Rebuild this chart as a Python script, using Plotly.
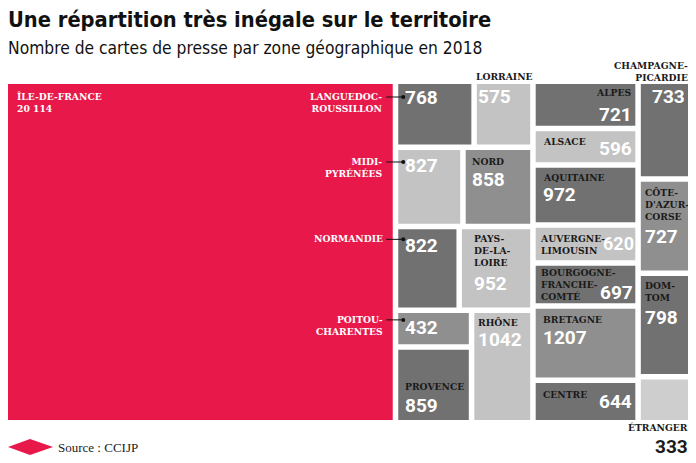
import plotly.graph_objects as go

# ---------------- data ----------------
regions = ["Île-de-France", "Languedoc-Roussillon", "Lorraine", "Midi-Pyrénées", "Nord",
           "Normandie", "Pays-de-la-Loire", "Poitou-Charentes", "Provence", "Rhône",
           "Alpes", "Alsace", "Aquitaine", "Auvergne-Limousin", "Bourgogne-Franche-Comté",
           "Bretagne", "Centre", "Champagne-Picardie", "Côte-d'Azur-Corse", "DOM-TOM", "Étranger"]
cards = [20114, 768, 575, 827, 858, 822, 952, 432, 859, 1042,
         721, 596, 972, 620, 697, 1207, 644, 733, 727, 798, 333]
value_labels = ["20 114", "768", "575", "827", "858", "822", "952", "432", "859", "1042",
                "721", "596", "972", "620", "697", "1207", "644", "733", "727", "798", "333"]
name_labels = ["ÎLE-DE-FRANCE", "LANGUEDOC-<br>ROUSSILLON", "LORRAINE", "MIDI-<br>PYRÉNÉES", "NORD",
               "NORMANDIE", "PAYS-<br>DE-LA-<br>LOIRE", "POITOU-<br>CHARENTES", "PROVENCE", "RHÔNE",
               "ALPES", "ALSACE", "AQUITAINE", "AUVERGNE-<br>LIMOUSIN", "BOURGOGNE-<br>FRANCHE-<br>COMTÉ",
               "BRETAGNE", "CENTRE", "CHAMPAGNE-<br>PICARDIE", "CÔTE-<br>D'AZUR-<br>CORSE", "DOM-<br>TOM",
               "ÉTRANGER"]
title = "Une répartition très inégale sur le territoire"
subtitle = "Nombre de cartes de presse par zone géographique en 2018"
source = "Source : CCIJP"

# tiling structure (H = side by side, V = stacked), leaves are region indices
tiling = ("H", [0,
                ("V", [("H", [1, 2]), ("H", [3, 4]), ("H", [5, 6]), ("H", [("V", [7, 8]), 9])]),
                ("V", [10, 11, 12, 13, 14, 15, 16]),
                ("V", [17, 18, 19, 20])])

# ---------------- styles ----------------
RED, DARK, MID, LIGHT, PALE = "#e8194a", "#717171", "#8f8f8f", "#c3c3c3", "#cecece"
colors = [RED, DARK, LIGHT, LIGHT, MID, DARK, LIGHT, MID, DARK, LIGHT,
          DARK, LIGHT, DARK, LIGHT, DARK, MID, DARK, DARK, MID, DARK, PALE]

W_, K_ = "white", "#1a1a1a"
# name: (corner, dx, dy, xanchor, color) ; num: (corner, dx, dy, xanchor, color)
placement = {
    0: (("tl", 8, 13, "left", W_), None),
    1: (("tl", -14, 13, "right", W_), ("tl", 6, 14, "left", W_)),
    2: (("tr", 4, -7, "right", K_), ("tl", 0, 13, "left", W_)),
    3: (("tl", -14, 12, "right", W_), ("tl", 6, 16, "left", W_)),
    4: (("tl", 5, 12, "left", K_), ("tl", 5, 30, "left", W_)),
    5: (("tl", -14, 10, "right", W_), ("tl", 6, 16, "left", W_)),
    6: (("tl", 11, 10, "left", K_), ("tl", 11, 54, "left", W_)),
    7: (("tl", -14, 7, "right", W_), ("tl", 6, 15, "left", W_)),
    8: (("bl", 6, -33, "left", K_), ("bl", 6, -15, "left", W_)),
    9: (("tl", 3, 10, "left", K_), ("tl", 3, 27, "left", W_)),
    10: (("tr", -2, 9, "right", K_), ("tr", -2, 30, "right", W_)),
    11: (("tl", 6, 11, "left", K_), ("tr", -2, 17, "right", W_)),
    12: (("tl", 6, 10, "left", K_), ("tl", 6, 27, "left", W_)),
    13: (("tl", 3, 11, "left", K_), ("tr", 0, 16, "right", W_)),
    14: (("tl", 4, 7, "left", K_), ("tr", -1, 27, "right", W_)),
    15: (("tl", 6, 11, "left", K_), ("tl", 6, 29, "left", W_)),
    16: (("tl", 6, 12, "left", K_), ("tr", -2, 18, "right", W_)),
    17: (("tr", 1, -18, "right", K_), ("tr", -2, 13, "right", W_)),
    18: (("tl", 3, 11, "left", K_), ("tl", 3, 55, "left", W_)),
    19: (("tl", 3, 10, "left", K_), ("tl", 3, 41, "left", W_)),
    20: (("br", 1, 8, "right", K_), ("br", 1, 26, "right", K_)),
}
num_size_override = {13: 18}
leaders = [1, 3, 5, 7]

PAGE = 8                      # browser body margin
FIG_W, FIG_H = 696 - PAGE, 463 - PAGE
ML, MR, MT, MB = 0, 8, 76, 43
PW, PH = FIG_W - ML - MR, FIG_H - MT - MB
GAP = 2.75  # half gap in px between cells

NAME_SIZE = 9.2
NAME_FONT = dict(family="DejaVu Serif", size=NAME_SIZE, weight="bold")
NUM_FAMILY = "Roboto, DejaVu Sans Condensed, sans-serif"
NUM_SIZE = 19
LINE_H = NAME_SIZE * 1.3


# ---------------- layout computation ----------------
def node_sum(node):
    if isinstance(node, int):
        return cards[node]
    return sum(node_sum(c) for c in node[1])


def place(node, x0, x1, y0, y1, out):
    if isinstance(node, int):
        out[node] = (x0, x1, y0, y1)
        return
    kind, kids = node
    s = node_sum(node)
    pos = x0 if kind == "H" else y0
    for k in kids:
        f = node_sum(k) / s
        if kind == "H":
            w = (x1 - x0) * f
            place(k, pos, pos + w, y0, y1, out)
            pos += w
        else:
            h = (y1 - y0) * f
            place(k, x0, x1, pos, pos + h, out)
            pos += h


TOTAL = node_sum(tiling)
rects = {}
place(tiling, 0, TOTAL, 0, 1, rects)

DX = TOTAL / PW   # data units per px (x)
DY = 1.0 / PH     # data units per px (y, downward)
gx, gy = GAP * DX, GAP * DY
eps = 1e-9


def inset(r):
    x0, x1, y0, y1 = r
    return (x0 + (gx if x0 > eps else 0), x1 - (gx if x1 < TOTAL * (1 - eps) else 0),
            y0 + (gy if y0 > eps else 0), y1 - (gy if y1 < 1 - eps else 0))


vis = {i: inset(r) for i, r in rects.items()}
order = list(range(len(cards)))

fig = go.Figure()
fig.add_trace(go.Bar(
    x=[(vis[i][0] + vis[i][1]) / 2 for i in order],
    width=[vis[i][1] - vis[i][0] for i in order],
    base=[vis[i][2] for i in order],
    y=[vis[i][3] - vis[i][2] for i in order],
    marker=dict(color=colors, line=dict(width=0)),
    hoverinfo="skip", showlegend=False,
))


def corner(i, c):
    x0, x1, y0, y1 = vis[i]
    x = x0 if c[1] == "l" else x1
    y = y0 if c[0] == "t" else y1
    return x, y


def to_paper(x, y):
    # data -> paper (y axis reversed: data 0 at top)
    return x / TOTAL, 1 - y


annotations = []
shapes = []
for i in order:
    name_p, num_p = placement[i]
    c, dx, dy, xa, col = name_p
    x, y = corner(i, c)
    text = name_labels[i]
    if i == 0:
        text = name_labels[i] + "<br>" + value_labels[i]
    xp, yp = to_paper(x + dx * DX, y + (dy - LINE_H / 2 - 1) * DY)
    annotations.append(dict(
        x=xp, y=yp, xref="paper", yref="paper",
        text=text, showarrow=False, xanchor=xa, yanchor="top", align=xa,
        font=dict(color=col, **NAME_FONT), borderpad=0))
    if num_p:
        c, dx, dy, xa, col = num_p
        x, y = corner(i, c)
        xp, yp = to_paper(x + dx * DX, y + dy * DY)
        annotations.append(dict(
            x=xp, y=yp, xref="paper", yref="paper",
            text=value_labels[i], showarrow=False, xanchor=xa, yanchor="middle",
            font=dict(color=col, family=NUM_FAMILY, size=num_size_override.get(i, NUM_SIZE),
                      weight="bold"), borderpad=0))

for i in leaders:
    x0, x1, y0, y1 = vis[i]
    dy = placement[i][0][2]
    ly = y0 + dy * DY
    shapes.append(dict(type="line", xref="x", yref="y", x0=x0 - 12 * DX, x1=x0 + 5 * DX,
                       y0=ly, y1=ly, line=dict(color="#111111", width=1)))
    r = 2.0
    shapes.append(dict(type="circle", xref="x", yref="y",
                       x0=x0 + (5 - r) * DX, x1=x0 + (5 + r) * DX,
                       y0=ly - r * DY, y1=ly + r * DY,
                       fillcolor="#111111", line=dict(width=0)))


def px(xs):
    return (xs - PAGE - ML) / PW


def py(ys):
    return 1 - (ys - PAGE - MT) / PH


# title and subtitle
annotations.append(dict(x=px(6), y=py(19), xref="paper", yref="paper", text=title,
                        showarrow=False, xanchor="left", yanchor="middle",
                        font=dict(family="DejaVu Sans Condensed", size=21.7, weight="bold", color="#111111")))
annotations.append(dict(x=px(6), y=py(48), xref="paper", yref="paper", text=subtitle,
                        showarrow=False, xanchor="left", yanchor="middle",
                        font=dict(family="DejaVu Sans Condensed", size=17.3, color="#111111")))
# source
shapes.append(dict(type="path", xref="paper", yref="paper",
                   path=f"M {px(8)} {py(447)} L {px(30)} {py(439)} L {px(53)} {py(447)} L {px(30)} {py(455)} Z",
                   fillcolor=RED, line=dict(width=0)))
annotations.append(dict(x=px(56), y=py(447), xref="paper", yref="paper", text=source,
                        showarrow=False, xanchor="left", yanchor="middle",
                        font=dict(family="Liberation Serif", size=13, color="#222222")))

fig.update_layout(
    width=FIG_W, height=FIG_H,
    margin=dict(l=ML, r=MR, t=MT, b=MB, pad=0),
    paper_bgcolor="white", plot_bgcolor="white",
    xaxis=dict(range=[0, TOTAL], visible=False, fixedrange=True),
    yaxis=dict(range=[1, 0], visible=False, fixedrange=True),
    barmode="overlay",
    annotations=annotations, shapes=shapes,
    showlegend=False,
)

fig.write_html("out.html")
